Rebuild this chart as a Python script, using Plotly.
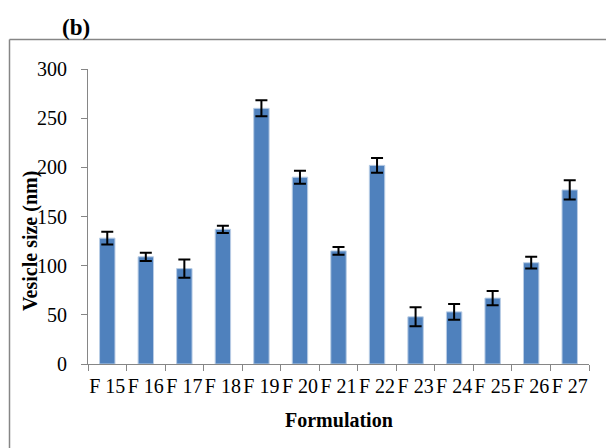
import plotly.graph_objects as go

categories = ["F 15", "F 16", "F 17", "F 18", "F 19", "F 20", "F 21",
              "F 22", "F 23", "F 24", "F 25", "F 26", "F 27"]
vesicle_size = [128, 109, 97, 137, 260, 190, 115, 202, 48, 53, 67, 103, 177]
size_error = [6.6, 4.2, 9.3, 3.7, 8.1, 6.6, 3.9, 7.6, 9.7, 8.0, 7.3, 6.0, 9.8]
y_ticks = [0, 50, 100, 150, 200, 250, 300]

W, H = 606, 448
L, R, T, B = 88, 17, 69, 84
pw, ph = W - L - R, H - T - B


def px(x):
    return (x - L) / pw


def py(y):
    return (H - B - y) / ph


serif = "Times New Roman, DejaVu Serif, serif"
axis_col = "#868686"

fig = go.Figure()
fig.add_trace(go.Bar(
    x=categories, y=vesicle_size,
    marker=dict(color="#4F81BD", line=dict(color="#B9CDE5", width=1)),
    error_y=dict(type="data", array=size_error, visible=True,
                 color="black", thickness=2, width=6),
    width=0.4,
))

fig.update_layout(
    width=W, height=H,
    margin=dict(l=L, r=R, t=T, b=B, pad=0),
    paper_bgcolor="white", plot_bgcolor="white",
    showlegend=False,
    font=dict(family=serif, size=20, color="black"),
    xaxis=dict(
        type="category", showgrid=False, zeroline=False,
        showline=True, linecolor=axis_col, linewidth=1,
        ticks="outside", ticklen=6, tickcolor=axis_col, tickwidth=1,
        tickson="boundaries", tickangle=0,
        tickfont=dict(family=serif, size=20, color="black"),
        ticklabelstandoff=4,
    ),
    yaxis=dict(
        range=[0, 300], tickvals=y_ticks, showgrid=False, zeroline=False,
        showline=True, linecolor=axis_col, linewidth=1,
        ticks="outside", ticklen=6, tickcolor=axis_col, tickwidth=1,
        tickfont=dict(family=serif, size=20, color="black"),
        ticklabelstandoff=10,
    ),
    shapes=[
        dict(type="line", xref="paper", yref="paper",
             x0=px(9.5), x1=px(640), y0=py(39.5), y1=py(39.5),
             line=dict(color=axis_col, width=1.5)),
        dict(type="line", xref="paper", yref="paper",
             x0=px(9.5), x1=px(9.5), y0=py(39.5), y1=py(480),
             line=dict(color=axis_col, width=1.5)),
    ],
    annotations=[
        dict(text="<b>Vesicle size (nm)</b>", xref="paper", yref="paper",
             x=px(30), y=py(241), textangle=-90, showarrow=False,
             xanchor="center", yanchor="middle",
             font=dict(family=serif, size=20, color="black")),
        dict(text="<b>Formulation</b>", xref="paper", yref="paper",
             x=px(338.5), y=py(420), showarrow=False,
             xanchor="center", yanchor="middle",
             font=dict(family=serif, size=20, color="black")),
        dict(text="<b>(b)</b>", xref="paper", yref="paper",
             x=px(76), y=py(28), showarrow=False,
             xanchor="center", yanchor="middle",
             font=dict(family=serif, size=23, color="black")),
    ],
)

fig.write_html("out.html")
